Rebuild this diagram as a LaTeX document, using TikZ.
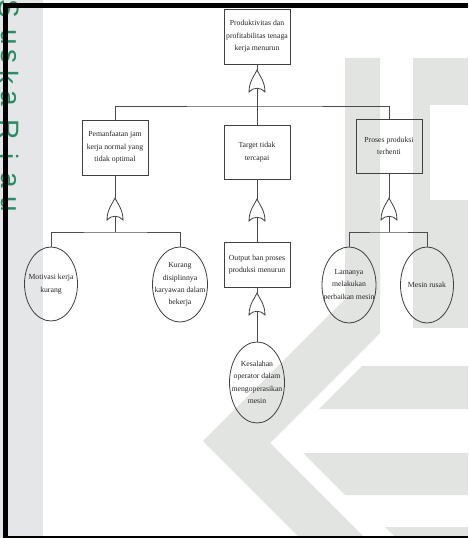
\documentclass[tikz,border=0pt]{standalone}
\usepackage{fontspec}
\setmainfont{Liberation Serif}
\newfontfamily\wmfont{Liberation Sans}
\usetikzlibrary{shapes.geometric}

\definecolor{wmgreen}{RGB}{40,140,100}
\definecolor{wmlight}{RGB}{229,230,232}
\definecolor{wmgray}{RGB}{225,228,224}

\tikzset{
  lbl/.style={font=\fontsize{5.8}{9.3}\selectfont, align=center, text=black!85, inner sep=0pt},
  evbox/.style={draw=black!75, line width=0.6pt, rectangle, minimum width=49.5pt, inner sep=0pt, lbl},
  basic/.style={draw=black!75, line width=0.6pt, ellipse, inner sep=0pt},
  link/.style={draw=black!70, line width=0.6pt},
  wmletter/.style={font=\wmfont\fontsize{21}{21}\selectfont, text=wmgreen, rotate=-90, anchor=center, inner sep=0pt},
  orgate/.pic={
    \draw[black!75, line width=0.6pt]
      (0,0) .. controls (-2,5) and (-8,11) .. (-8,22)
            .. controls (-4,17) and (4,17) .. (8,22)
            .. controls (8,11) and (2,5) .. (0,0) -- cycle;
    \coordinate (-in) at (0,0);
    \coordinate (-out) at (0,18.3);
  }
}

\begin{document}
\begin{tikzpicture}[x=0.75pt,y=-0.75pt]
\useasboundingbox (0,0) rectangle (468,538);

% page background with the faint logo shapes
\fill[white] (0,0) rectangle (468,538);
\fill[wmlight] (0,0) rectangle (43,538);
\fill[wmgray] (345,58) -- (380,58) -- (380,333) -- (270,443) -- (365,538)
  -- (300,538) -- (203,441) -- (345,299) -- cycle;
\fill[wmgray] (413,58) rectangle (468,328);
\fill[white] (430,105) rectangle (468,200);
\fill[wmgray] (362,366) -- (468,366) -- (468,409) -- (319,409) -- cycle;
\fill[wmgray] (303,453) -- (468,453) -- (468,495) -- (345,495) -- cycle;
\fill[wmgray] (385,527) -- (468,527) -- (468,538) -- (396,538) -- cycle;

% side lettering
\foreach \ch/\yy in {S/9,u/37,s/57,k/78,a/98,R/130,i/157,a/180,u/204}
  \node[wmletter] (wm-\yy) at (9,\yy) {\ch};

% page frame
\fill[black] (3,3) rectangle (7.5,538);
\fill[black] (3,3) rectangle (468,8);
\fill[black] (3,536) rectangle (468,538);

% events
\node[evbox, minimum height=41.25pt] (top) at (257,36.5)
  {Produktivitas dan\\profitabilitas tenaga\\kerja menurun};
\node[evbox, minimum height=41.25pt] (jam) at (115,147.5)
  {Pemanfaatan jam\\kerja normal yang\\tidak optimal};
\node[evbox, minimum height=40.5pt] (target) at (257,152)
  {Target tidak\\tercapai};
\node[evbox, minimum height=40.5pt] (proses) at (389,146)
  {Proses produksi\\terhenti};
\node[evbox, minimum height=33.75pt] (output) at (257,264.5)
  {Output ban proses\\produksi menurun};

% basic events
\node[basic, minimum width=39.75pt, minimum height=55.5pt,
  label={[lbl]center:{Motivasi kerja\\kurang}}] (motivasi) at (51,284) {};
\node[basic, minimum width=41.25pt, minimum height=56.25pt,
  label={[lbl]center:{Kurang\\disiplinnya\\karyawan dalam\\bekerja}}] (disiplin) at (180,284.5) {};
\node[basic, minimum width=41.25pt, minimum height=60.75pt,
  label={[lbl]center:{Kesalahan\\operator dalam\\mengoperasikan\\mesin}}] (operator) at (257,382.5) {};
\node[basic, minimum width=40.5pt, minimum height=57pt,
  label={[lbl]center:{Lamanya\\melakukan\\perbaikan mesin}}] (lamanya) at (349,285) {};
\node[basic, minimum width=39.75pt, minimum height=57pt,
  label={[lbl]center:{Mesin rusak}}] (rusak) at (427,285) {};

% OR gates
\pic (g0) at (257,70) {orgate};
\pic (gL) at (115,198) {orgate};
\pic (gC) at (257,199) {orgate};
\pic (gO) at (257,293) {orgate};
\pic (gR) at (389,198) {orgate};

% branch points
\coordinate (bus0) at (257,106);
\coordinate (busL) at (115,232);
\coordinate (busR) at (389,232);

% connectors
\draw[link] (top.south) -- (g0-in);
\draw[link] (g0-out) -- (target.north);
\draw[link] (jam.north) |- (bus0) -| (proses.north);

\draw[link] (jam.south) -- (gL-in);
\draw[link] (gL-out) -- (busL);
\draw[link] (motivasi.north) |- (busL) -| (disiplin.north);

\draw[link] (target.south) -- (gC-in);
\draw[link] (gC-out) -- (output.north);
\draw[link] (output.south) -- (gO-in);
\draw[link] (gO-out) -- (operator.north);

\draw[link] (proses.south) -- (gR-in);
\draw[link] (gR-out) -- (busR);
\draw[link] (lamanya.north) |- (busR) -| (rusak.north);
\end{tikzpicture}
\end{document}
